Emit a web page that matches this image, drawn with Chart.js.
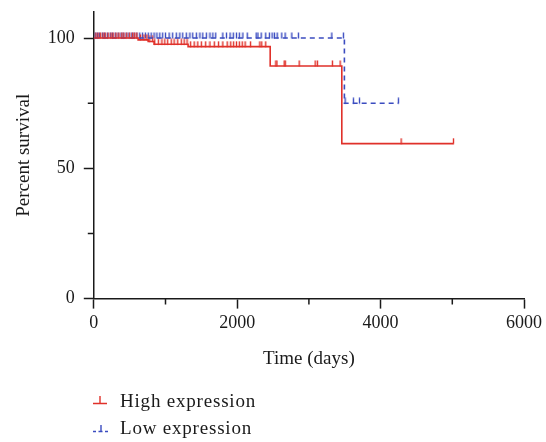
<!DOCTYPE html>
<html>
<head>
<meta charset="utf-8">
<script src="https://cdn.jsdelivr.net/npm/chart.js@4"></script>
<style>
  body { margin: 0; background: #fff; }
  #wrap { position: relative; width: 546px; height: 442px; }
  #legend { position: absolute; left: 93px; top: 387px; font: 19px "Liberation Serif", serif; letter-spacing: 0.8px; color: #1a1a1a; }
  .item { position: relative; height: 27px; line-height: 27px; padding-left: 27px; white-space: nowrap; }
  .item svg { position: absolute; left: 0; top: 0; }
</style>
</head>
<body>
<div id="wrap">
  <canvas id="km" width="546" height="442"></canvas>
  <div id="legend">
    <div class="item">
      <svg width="15" height="27"><path d="M0 16.5H14M7 16.5V9" stroke="#e0312a" stroke-width="1.4" fill="none"/></svg>High expression
    </div>
    <div class="item">
      <svg width="15" height="27"><path d="M0 17.5H3M5.5 17.5H9.5M12 17.5H15M8 17.5V11" stroke="#3b4cc0" stroke-width="1.4" fill="none"/></svg>Low expression
    </div>
  </div>
</div>
<script>
// Kaplan-Meier step points (time in days, percent survival)
const highTimes = [0, 618, 758, 841, 1315, 2460, 3459, 5016];
const highSurvival = [100, 99.3, 98.7, 97.6, 96.7, 89.3, 59.5, 59.5];
const lowTimes = [0, 3495, 4248];
const lowSurvival = [100, 75, 75];

// censored observations (days)
const highCensored = [30, 60, 95, 130, 160, 200, 240, 270, 310, 350, 390, 420, 460, 500, 540, 570, 600,
  650, 700, 740, 780, 820, 850, 900, 950, 990, 1030, 1080, 1120, 1170, 1220, 1260, 1300, 1350, 1400,
  1450, 1500, 1560, 1620, 1680, 1740, 1800, 1860, 1910, 1950, 1990, 2030, 2070, 2110, 2186, 2316,
  2342, 2398, 2540, 2555, 2655, 2670, 2864, 3087, 3119, 3328, 3435, 4286, 5016];
const lowCensored = [20, 50, 80, 120, 150, 190, 230, 260, 300, 340, 380, 410, 450, 490, 530, 560, 600,
  640, 680, 720, 760, 800, 840, 880, 920, 960, 1000, 1050, 1100, 1150, 1200, 1240, 1290, 1340, 1380,
  1430, 1480, 1520, 1570, 1620, 1660, 1700, 1800, 1850, 1900, 1945, 1990, 2030, 2080, 2140, 2264,
  2290, 2334, 2398, 2449, 2487, 2520, 2557, 2622, 2668, 2762, 2854, 3320, 3481, 3505, 3621, 3705, 4248];

const xTickLabels = [0, 2000, 4000, 6000];
const yTickLabels = [0, 50, 100];

const RED = "#e0312a";
const BLUE = "#3b4cc0";
const FONT = "'Liberation Serif', 'Times New Roman', serif";

function survivalAt(times, surv, t) {
  let s = surv[0];
  for (let i = 0; i < times.length; i++) {
    if (times[i] <= t) s = surv[i];
  }
  return s;
}

function toPoints(times, surv) {
  return times.map((t, i) => ({ x: t, y: surv[i] }));
}

function censorPoints(list, times, surv) {
  return list.map(t => ({ x: t, y: survivalAt(times, surv, t) }));
}

// little upward tick used as censor mark
function censorMark(color) {
  const c = document.createElement("canvas");
  c.width = 3;
  c.height = 12;
  const g = c.getContext("2d");
  g.strokeStyle = color;
  g.lineWidth = 1.4;
  g.beginPath();
  g.moveTo(1.5, 0.5);
  g.lineTo(1.5, 6.5);
  g.stroke();
  return c;
}

// shorter ticks for the unlabeled positions
const minorTicks = {
  id: "minorTicks",
  afterDraw(chart) {
    const ctx = chart.ctx;
    const xs = chart.scales.x, ys = chart.scales.y;
    ctx.save();
    ctx.strokeStyle = "#1a1a1a";
    ctx.lineWidth = 1.5;
    ctx.beginPath();
    xs.ticks.forEach(t => {
      if (!xTickLabels.includes(t.value)) {
        const px = xs.getPixelForValue(t.value);
        ctx.moveTo(px, ys.bottom);
        ctx.lineTo(px, ys.bottom + 6);
      }
    });
    ys.ticks.forEach(t => {
      if (!yTickLabels.includes(t.value)) {
        const py = ys.getPixelForValue(t.value);
        ctx.moveTo(xs.left, py);
        ctx.lineTo(xs.left - 6, py);
      }
    });
    ctx.stroke();
    ctx.restore();
  }
};

new Chart(document.getElementById("km"), {
  type: "line",
  data: {
    datasets: [
      {
        label: "High expression",
        data: toPoints(highTimes, highSurvival),
        stepped: "before",
        borderColor: RED,
        borderWidth: 1.6,
        pointRadius: 0,
        fill: false
      },
      {
        label: "Low expression",
        data: toPoints(lowTimes, lowSurvival),
        stepped: "before",
        borderColor: BLUE,
        borderWidth: 1.6,
        borderDash: [5, 4],
        pointRadius: 0,
        fill: false
      },
      {
        type: "scatter",
        label: "High censored",
        data: censorPoints(highCensored, highTimes, highSurvival),
        pointStyle: censorMark(RED),
        showLine: false
      },
      {
        type: "scatter",
        label: "Low censored",
        data: censorPoints(lowCensored, lowTimes, lowSurvival),
        pointStyle: censorMark(BLUE),
        showLine: false
      }
    ]
  },
  options: {
    responsive: false,
    animation: false,
    layout: { padding: { left: 8, right: 6, top: 12, bottom: 72 } },
    plugins: {
      legend: { display: false },
      tooltip: { enabled: false }
    },
    scales: {
      x: {
        type: "linear",
        min: 0,
        max: 6000,
        border: { color: "#1a1a1a", width: 1.5 },
        grid: {
          drawOnChartArea: false,
          tickLength: 10,
          tickWidth: 1.5,
          tickColor: ctx => xTickLabels.includes(ctx.tick.value) ? "#1a1a1a" : "rgba(0,0,0,0)"
        },
        ticks: {
          stepSize: 1000,
          autoSkip: false,
          maxRotation: 0,
          padding: 4,
          color: "#1a1a1a",
          font: { family: FONT, size: 18 },
          callback: v => xTickLabels.includes(v) ? String(v) : ""
        },
        title: {
          display: true,
          text: "Time (days)",
          color: "#1a1a1a",
          font: { family: FONT, size: 19 },
          padding: { top: 9, bottom: 0 }
        }
      },
      y: {
        min: 0,
        max: 110,
        afterBuildTicks: s => { s.ticks = s.ticks.filter(t => t.value % 25 === 0); },
        afterFit: s => { s.paddingTop = 0; },
        border: { color: "#1a1a1a", width: 1.5 },
        grid: {
          drawOnChartArea: false,
          tickLength: 10,
          tickWidth: 1.5,
          tickColor: ctx => yTickLabels.includes(ctx.tick.value) ? "#1a1a1a" : "rgba(0,0,0,0)"
        },
        ticks: {
          stepSize: 25,
          autoSkip: false,
          padding: 9,
          color: "#1a1a1a",
          font: { family: FONT, size: 18 },
          callback: v => yTickLabels.includes(v) ? String(v) : ""
        },
        title: {
          display: true,
          text: "Percent survival",
          color: "#1a1a1a",
          font: { family: FONT, size: 19 },
          padding: { top: 5, bottom: 3 }
        }
      }
    }
  },
  plugins: [minorTicks]
});
</script>
</body>
</html>
